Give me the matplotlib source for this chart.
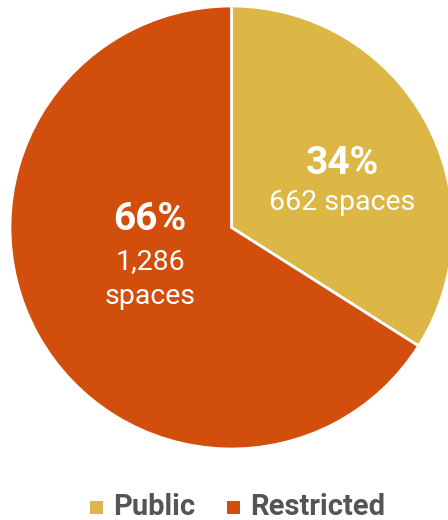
import numpy as np
import matplotlib.pyplot as plt
from matplotlib.patches import Rectangle

# parking spaces by access type
labels = ['Public', 'Restricted']
spaces = [662, 1286]
colors = ['#DCB746', '#D14E0D']

W, H = 448, 520
plt.rcParams['font.family'] = ['Roboto', 'DejaVu Sans']

fig = plt.figure(figsize=(W/100, H/100), dpi=100)
ax = fig.add_axes([0, 0, 1, 1])

cx, cy, r = 231.5, H - 227.5, 221.5
wedges, _ = ax.pie(spaces, colors=colors, startangle=90, counterclock=False,
                   center=(cx, cy), radius=r, frame=True,
                   wedgeprops=dict(edgecolor='white', linewidth=2.0))
ax.set_xlim(0, W)
ax.set_ylim(0, H)
ax.set_aspect('equal')
ax.axis('off')

total = sum(spaces)
pct = [round(100*v/total) for v in spaces]

# slice labels
ax.text(342, H - 163, '%d%%' % pct[0], color='white', fontsize=28, fontweight='bold',
        ha='center', va='center')
ax.text(342, H - 203, '{:,} spaces'.format(spaces[0]), color='white', fontsize=20.5,
        ha='center', va='center')
ax.text(150, H - 220, '%d%%' % pct[1], color='white', fontsize=28, fontweight='bold',
        ha='center', va='center')
ax.text(150, H - 262, '{:,}'.format(spaces[1]), color='white', fontsize=20.5,
        ha='center', va='center')
ax.text(150, H - 297, 'spaces', color='white', fontsize=20.5,
        ha='center', va='center')

# legend along the bottom
for x0, lab, col in zip([90, 227], labels, colors):
    ax.add_patch(Rectangle((x0, H - 514), 13, 13, color=col, lw=0))
    ax.text(x0 + 23, H - 507, lab, color='#555555', fontsize=21, fontweight='bold',
            ha='left', va='center')

fig.savefig('out.png', dpi=100)
